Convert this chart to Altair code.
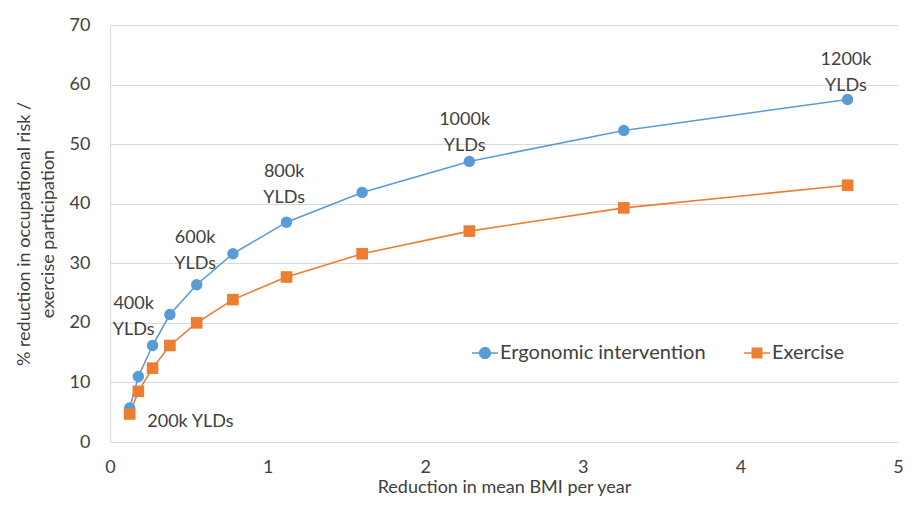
import altair as alt
import pandas as pd

# Data
bmi = [0.125, 0.18, 0.27, 0.38, 0.55, 0.78, 1.12, 1.60, 2.28, 3.26, 4.68]
ergonomic = [5.7, 11.0, 16.2, 21.4, 26.4, 31.6, 36.9, 41.9, 47.1, 52.3, 57.5]
exercise = [4.7, 8.5, 12.4, 16.2, 20.0, 23.9, 27.7, 31.6, 35.4, 39.3, 43.1]
series_names = ["Ergonomic intervention", "Exercise"]
series_colors = ["#5B9BD5", "#ED7D31"]

ann_text = ["200k YLDs", "400k\nYLDs", "600k\nYLDs", "800k\nYLDs", "1000k\nYLDs", "1200k\nYLDs"]
ann_x = [0.51, 0.15, 0.54, 1.105, 2.25, 4.67]
ann_y = [3.3, 23.1, 34.3, 45.4, 54.1, 64.1]

FONT = "Lato"
TXT = "#404040"

rows = []
for b, e in zip(bmi, ergonomic):
    rows.append({"bmi": b, "value": e, "series": series_names[0]})
for b, e in zip(bmi, exercise):
    rows.append({"bmi": b, "value": e, "series": series_names[1]})
df = pd.DataFrame(rows)
ann = pd.DataFrame({"x": ann_x, "y": ann_y, "t": ann_text})

xs = alt.X("bmi:Q", scale=alt.Scale(domain=[0, 5], nice=False),
           axis=alt.Axis(title="Reduction in mean BMI per year", values=[0, 1, 2, 3, 4, 5],
                         grid=False, format="d"))
ys = alt.Y("value:Q", scale=alt.Scale(domain=[0, 70], nice=False),
           axis=alt.Axis(title=["% reduction in occupational risk /", "exercise participation"],
                         values=[0, 10, 20, 30, 40, 50, 60, 70], grid=True))


def cscale():
    return alt.Scale(domain=series_names, range=series_colors)


line_path_circle = "M-1,-0.06H1V0.06H-1Z M0.47,0A0.47,0.47,0,1,1,-0.47,0A0.47,0.47,0,1,1,0.47,0Z"
line_path_square = "M-1,-0.06H1V0.06H-1Z M-0.42,-0.42H0.42V0.42H-0.42Z"

lines = alt.Chart(df).mark_line(strokeWidth=1.6).encode(
    x=xs, y=ys, detail="series:N",
    color=alt.Color("series:N", scale=cscale(), legend=None),
)

points = alt.Chart(df).mark_point(filled=True, opacity=1, strokeWidth=0).encode(
    x=xs, y=ys,
    color=alt.Color("series:N", scale=cscale(), legend=None),
    shape=alt.Shape("series:N", scale=alt.Scale(domain=series_names, range=["circle", "square"]), legend=None),
    size=alt.Size("series:N", scale=alt.Scale(domain=series_names, range=[130, 135]), legend=None),
)

leg = alt.Legend(title=None, orient="none", legendX=362, legendY=315, direction="horizontal",
                 symbolSize=676, symbolStrokeWidth=0, symbolOpacity=1, labelFont=FONT,
                 labelFontSize=20, labelColor=TXT, columnPadding=38, labelOffset=2, labelLimit=400)

legend_layer = alt.Chart(df).transform_filter("false").mark_point(filled=True, opacity=1).encode(
    x=xs, y=ys,
    color=alt.Color("series:N", scale=cscale(), legend=leg),
    shape=alt.Shape("series:N", scale=alt.Scale(domain=series_names,
                                                range=[line_path_circle, line_path_square]),
                    legend=leg),
)

texts = alt.Chart(ann).mark_text(font=FONT, fontSize=18, color=TXT, lineBreak="\n",
                                 lineHeight=26, align="center", baseline="middle").encode(
    x=alt.X("x:Q"), y=alt.Y("y:Q"), text="t:N"
)

chart = alt.layer(lines, points, legend_layer, texts).resolve_scale(
    shape="independent", color="independent", size="independent"
).properties(
    width=788, height=417,
    autosize=alt.AutoSizeParams(type="none"),
    padding={"left": 102, "top": 17, "right": 6, "bottom": 56},
    background="white",
).configure_view(stroke=None).configure_axis(
    gridColor="#D9D9D9", domainColor="#D9D9D9", ticks=False, tickSize=0,
    labelFont=FONT, labelFontSize=18, labelColor=TXT, labelFlush=False,
    titleFont=FONT, titleFontSize=18, titleFontWeight="normal", titleColor=TXT,
    labelPadding=20,
).configure_axisY(titlePadding=12, titleLineHeight=24).configure_axisX(labelPadding=16, titlePadding=2)

chart.save("out.html", embed_options={"renderer": "svg", "actions": False})
